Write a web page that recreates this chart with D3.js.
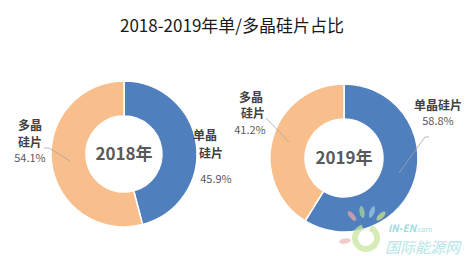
<!DOCTYPE html>
<html>
<head>
<meta charset="utf-8">
<script src="https://cdn.jsdelivr.net/npm/d3@7"></script>
<style>
  html, body { margin: 0; padding: 0; background: #fff; }
  svg { display: block; font-family: "Noto Sans CJK SC", "Noto Sans", sans-serif; }
</style>
</head>
<body>
<div id="chart-container"></div>
<script>
// data
const years = ["2018年", "2019年"];
const categories = ["单晶硅片", "多晶硅片"];
const share2018 = [45.9, 54.1];
const share2019 = [58.8, 41.2];
const colors = ["#4f7fbc", "#f8bf8d"];

const width = 476, height = 256;
const svg = d3.select("#chart-container").append("svg")
  .attr("width", width)
  .attr("height", height);

// title
svg.append("text")
  .attr("x", 232)
  .attr("y", 32)
  .attr("text-anchor", "middle")
  .style("font-size", "17px")
  .style("fill", "#1a1a1a")
  .text("2018-2019年单/多晶硅片占比");

const pie = d3.pie().sort(null).value(d => d);

// one donut
function drawDonut(values, cx, cy, rOuter, rInner, year) {
  const g = svg.append("g").attr("transform", `translate(${cx},${cy})`);
  const arc = d3.arc().innerRadius(rInner).outerRadius(rOuter);

  g.selectAll("path")
    .data(pie(values))
    .join("path")
    .attr("d", arc)
    .attr("fill", (d, i) => colors[i])
    .attr("stroke", "#fff")
    .attr("stroke-width", 1.5);

  g.append("text")
    .attr("y", 6)
    .attr("text-anchor", "middle")
    .style("font-size", "17px")
    .style("font-weight", "bold")
    .style("fill", "#595959")
    .text(year);
}

drawDonut(share2018, 124, 154, 73, 38, years[0]);
drawDonut(share2019, 344, 158, 74, 39, years[1]);

// labels: one text per label, category lines + percent as tspans
const fmt = v => v.toFixed(1) + "%";
function label(lines, pct, xs, ys) {
  const t = svg.append("text").attr("text-anchor", "middle");
  lines.forEach((s, i) => {
    t.append("tspan")
      .attr("x", xs[i]).attr("y", ys[i])
      .style("font-size", "12px")
      .style("font-weight", "bold")
      .style("fill", "#404040")
      .text(s);
  });
  t.append("tspan")
    .attr("x", xs[lines.length]).attr("y", ys[lines.length])
    .style("font-size", "11px")
    .style("fill", "#595959")
    .text(pct);
}

const split = s => [s.slice(0, 2), s.slice(2)];
label(split(categories[1]), fmt(share2018[1]), [30, 30, 30], [130, 147, 162]);
label(split(categories[0]), fmt(share2018[0]), [205, 211, 216], [140, 158, 183]);
label(split(categories[1]), fmt(share2019[1]), [251, 253, 250], [102, 118, 134]);
label([categories[0]], fmt(share2019[0]), [438, 438], [110, 125]);

// leader lines
const leaders = [
  [[44, 148], [49, 148], [70, 161]],
  [[266, 118], [289, 142]],
  [[429, 137], [425, 137], [399, 173]]
];
svg.selectAll("path.leader")
  .data(leaders)
  .join("path")
  .attr("class", "leader")
  .attr("d", d3.line())
  .attr("fill", "none")
  .attr("stroke", "#a6a6a6")
  .attr("stroke-width", 0.8);

// watermark
const wm = svg.append("g").attr("opacity", 0.75);
wm.append("path")
  .attr("transform", "translate(366,238)")
  .attr("d", d3.arc().innerRadius(8).outerRadius(14).startAngle(0.4).endAngle(2 * Math.PI - 0.3)())
  .attr("fill", "#c8e6a0");
[[352, 216, -40, "#e7a6a6"], [362, 212, -10, "#a5d4a0"], [372, 212, 20, "#9ec9e6"], [381, 216, 45, "#cde08a"], [345, 241, 80, "#f0b7b7"]]
  .forEach(([x, y, r, c]) => {
    wm.append("ellipse")
      .attr("cx", x).attr("cy", y).attr("rx", 2.5).attr("ry", 6)
      .attr("transform", `rotate(${r},${x},${y})`)
      .attr("fill", c);
  });
const brand = wm.append("text")
  .attr("x", 388).attr("y", 232)
  .style("fill", "#7fd0d8");
brand.append("tspan")
  .style("font-size", "10px").style("font-style", "italic").style("font-weight", "bold")
  .text("IN-EN");
brand.append("tspan")
  .style("font-size", "7px")
  .text(".com");
wm.append("text")
  .attr("x", 385).attr("y", 253)
  .style("font-size", "15px").style("font-style", "italic")
  .style("fill", "#9edbe1")
  .text("国际能源网");
</script>
</body>
</html>
